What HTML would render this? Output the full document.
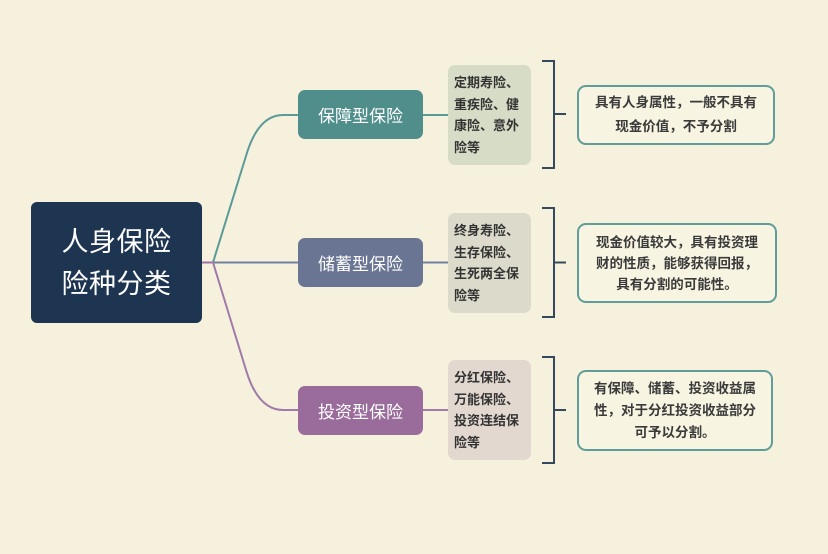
<!DOCTYPE html>
<html><head><meta charset="utf-8">
<style>
html,body{margin:0;padding:0;}
body{width:828px;height:554px;background:#f6f1dc;position:relative;overflow:hidden;font-family:"Liberation Sans","Noto Sans CJK SC",sans-serif;}
.abs{position:absolute;box-sizing:border-box;}
.root{left:31px;top:202px;width:171px;height:121px;background:#1e3551;border-radius:6px;color:#fff;font-size:27px;line-height:42px;display:flex;align-items:center;justify-content:center;text-align:center;letter-spacing:0.5px;}
.br{left:298px;width:125px;height:49px;border-radius:7px;color:#fff;font-size:17px;display:flex;align-items:center;justify-content:center;}
.det{left:448px;width:83px;height:100px;border-radius:7px;color:#333;font-size:13px;font-weight:bold;line-height:21.5px;padding:7px 0 0 6px;}
.desc{left:577px;border:2px solid #5f9c9a;border-radius:9px;background:#f8f4e2;color:#3a3a3a;font-size:13.5px;font-weight:bold;text-align:center;display:flex;align-items:center;justify-content:center;}
</style></head><body>
<svg class="abs" style="left:0;top:0" width="828" height="554" viewBox="0 0 828 554">
  <g fill="none" stroke-width="2">
    <path d="M202 262.5 L214 262.5" stroke="#a070a8"/>
    <path d="M213 262.5 L246 156 Q258 115 283 115 L298 115" stroke="#5a9a98"/>
    <path d="M213 262.5 L298 262.5" stroke="#7480a0"/>
    <path d="M213 262.5 L246 370 Q258 410 283 410 L298 410" stroke="#a07aaa"/>
    <path d="M423 115 L448 115" stroke="#5a9a98"/>
    <path d="M423 262.5 L448 262.5" stroke="#7480a0"/>
    <path d="M423 410 L448 410" stroke="#a07aaa"/>
  </g>
  <g fill="none" stroke="#34495e" stroke-width="2">
    <path d="M542 61 L554 61 L554 168 L542 168 M554 114 L566 114"/>
    <path d="M542 208 L554 208 L554 317 L542 317 M554 262.5 L566 262.5"/>
    <path d="M542 357 L554 357 L554 463 L542 463 M554 410 L566 410"/>
  </g>
</svg>

<div class="abs root"><div>人身保险<br>险种分类</div></div>

<div class="abs br" style="top:90px;background:#4f8e8b;">保障型保险</div>
<div class="abs br" style="top:238px;background:#6a7594;">储蓄型保险</div>
<div class="abs br" style="top:386px;background:#9a6c9c;">投资型保险</div>

<div class="abs det" style="top:65px;background:#d6dcc6;">定期寿险、<br>重疾险、健<br>康险、意外<br>险等</div>
<div class="abs det" style="top:213px;background:#dcdbcb;">终身寿险、<br>生存保险、<br>生死两全保<br>险等</div>
<div class="abs det" style="top:360px;background:#e2d8d0;">分红保险、<br>万能保险、<br>投资连结保<br>险等</div>

<div class="abs desc" style="top:85px;width:198px;height:60px;line-height:24px;"><div>具有人身属性，一般不具有<br>现金价值，不予分割</div></div>
<div class="abs desc" style="top:223px;width:200px;height:80px;line-height:21px;"><div>现金价值较大，具有投资理<br>财的性质，能够获得回报，<br>具有分割的可能性。</div></div>
<div class="abs desc" style="top:370px;width:196px;height:81px;line-height:22px;"><div>有保障、储蓄、投资收益属<br>性，对于分红投资收益部分<br>可予以分割。</div></div>
</body></html>
